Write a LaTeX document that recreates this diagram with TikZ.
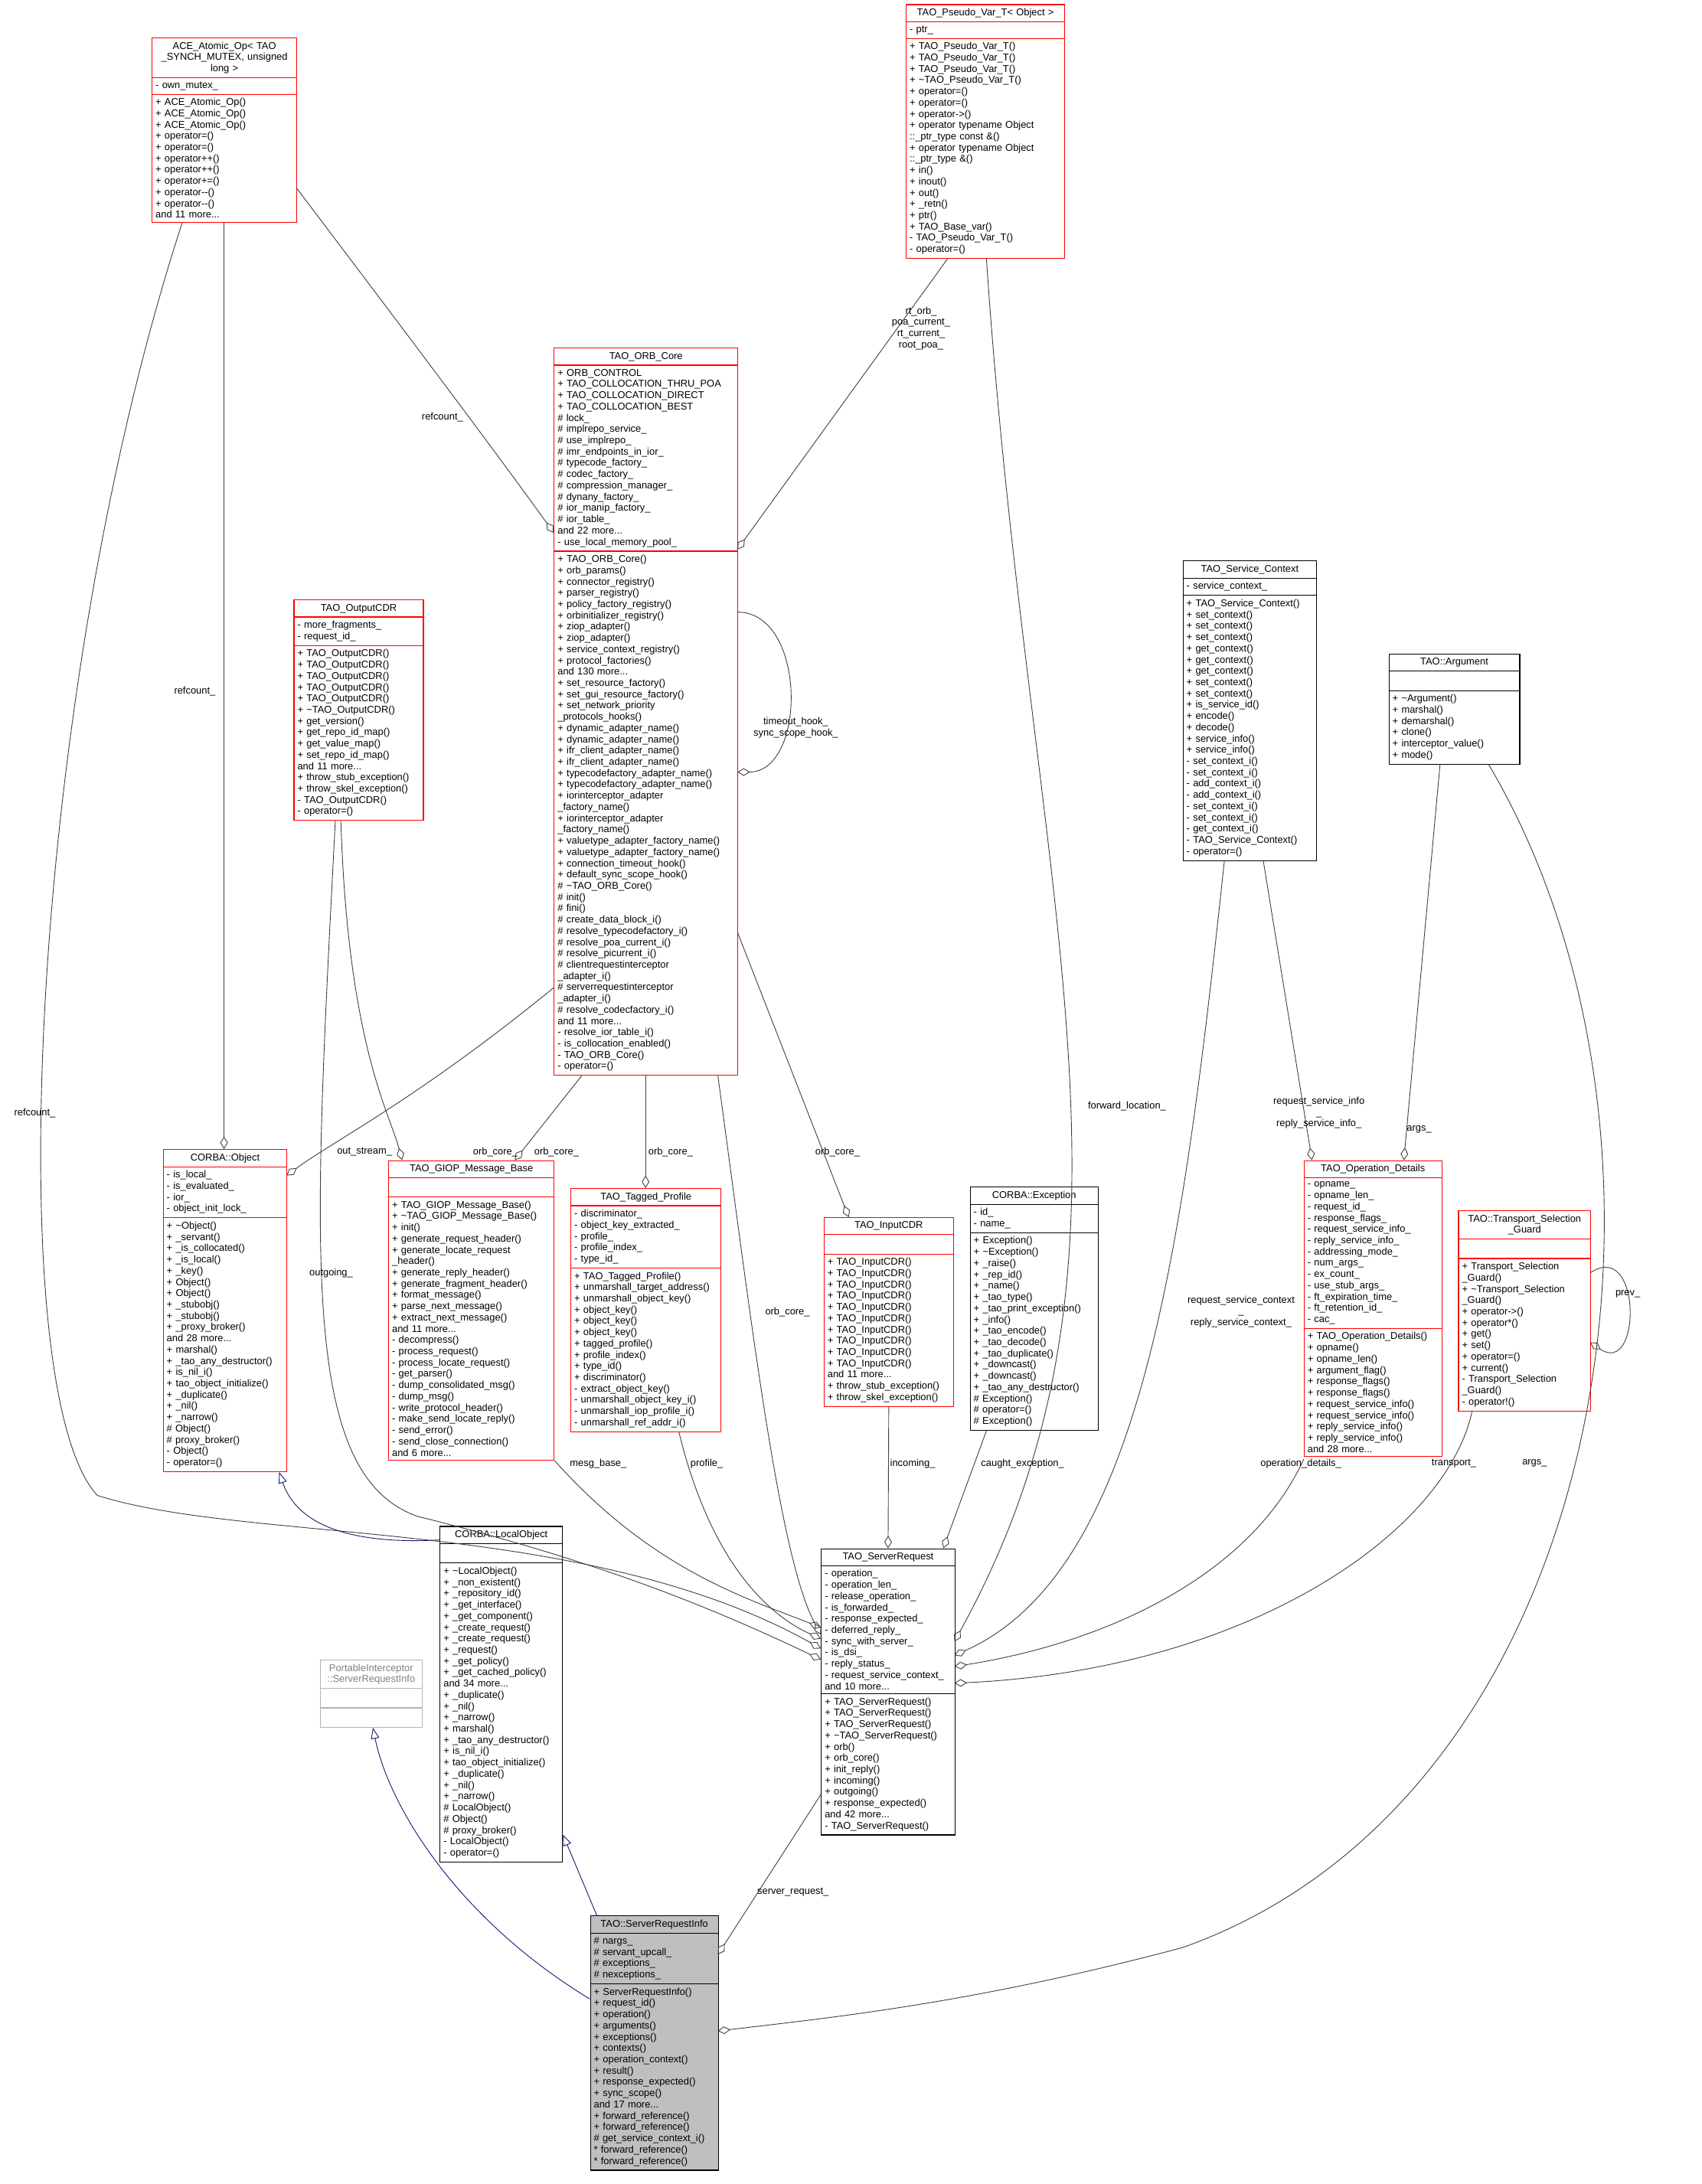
\documentclass[tikz,border=0pt]{standalone}
\usepackage{fontspec}
\setmainfont{Liberation Sans}
\usetikzlibrary{shapes.multipart,arrows.meta}

\definecolor{boxred}{RGB}{255,0,0}
\definecolor{edgegray}{RGB}{64,64,64}
\definecolor{inhblue}{RGB}{25,25,112}
\definecolor{titlegray}{RGB}{191,191,191}

\tikzset{
  classbox/.style={rectangle split, rectangle split parts=3, draw=#1, line width=0.6pt,
    anchor=north west, inner xsep=2.5pt, inner ysep=2.6pt, fill=white, align=left},
  redbox/.style={classbox=boxred},
  blackbox/.style={classbox=black},
  aggr/.style={draw=edgegray, line width=0.5pt, -{Diamond[open,length=9pt,width=5.5pt]}},
  inherit/.style={draw=inhblue, line width=0.5pt, -{Triangle[open,length=8pt,width=6pt]}},
  lbl/.style={align=center, inner sep=0.5pt}
}

\begin{document}
\catcode`\_=12
\begin{tikzpicture}[x=1pt,y=-1pt,font=\fontsize{7.1}{8.1}\selectfont]
\useasboundingbox (0,0) rectangle (1223,1570);

% classes
\node[redbox, text width=99pt] (ace) at (109,27)
  {\centering ACE_Atomic_Op< TAO\\_SYNCH_MUTEX, unsigned\\long >\par
   \nodepart{two} - own_mutex_
   \nodepart{three} + ACE_Atomic_Op()\\+ ACE_Atomic_Op()\\+ ACE_Atomic_Op()\\+ operator=()\\+ operator=()\\+ operator++()\\+ operator++()\\+ operator+=()\\+ operator-{}-()\\+ operator-{}-()\\and 11 more...};

\node[redbox, text width=109pt] (pseudo) at (651,3)
  {\centering TAO_Pseudo_Var_T< Object >\par
   \nodepart{two} - ptr_
   \nodepart{three} + TAO_Pseudo_Var_T()\\+ TAO_Pseudo_Var_T()\\+ TAO_Pseudo_Var_T()\\+ \textasciitilde TAO_Pseudo_Var_T()\\+ operator=()\\+ operator=()\\+ operator->()\\+ operator typename Object\\::_ptr_type const \&()\\+ operator typename Object\\::_ptr_type \&()\\+ in()\\+ inout()\\+ out()\\+ _retn()\\+ ptr()\\+ TAO_Base_var()\\- TAO_Pseudo_Var_T()\\- operator=()};

\node[redbox, text width=127pt] (orb) at (398,250)
  {\centering TAO_ORB_Core\par
   \nodepart{two} + ORB_CONTROL\\+ TAO_COLLOCATION_THRU_POA\\+ TAO_COLLOCATION_DIRECT\\+ TAO_COLLOCATION_BEST\\\# lock_\\\# implrepo_service_\\\# use_implrepo_\\\# imr_endpoints_in_ior_\\\# typecode_factory_\\\# codec_factory_\\\# compression_manager_\\\# dynany_factory_\\\# ior_manip_factory_\\\# ior_table_\\and 22 more...\\- use_local_memory_pool_
   \nodepart{three} + TAO_ORB_Core()\\+ orb_params()\\+ connector_registry()\\+ parser_registry()\\+ policy_factory_registry()\\+ orbinitializer_registry()\\+ ziop_adapter()\\+ ziop_adapter()\\+ service_context_registry()\\+ protocol_factories()\\and 130 more...\\+ set_resource_factory()\\+ set_gui_resource_factory()\\+ set_network_priority\\_protocols_hooks()\\+ dynamic_adapter_name()\\+ dynamic_adapter_name()\\+ ifr_client_adapter_name()\\+ ifr_client_adapter_name()\\+ typecodefactory_adapter_name()\\+ typecodefactory_adapter_name()\\+ iorinterceptor_adapter\\_factory_name()\\+ iorinterceptor_adapter\\_factory_name()\\+ valuetype_adapter_factory_name()\\+ valuetype_adapter_factory_name()\\+ connection_timeout_hook()\\+ default_sync_scope_hook()\\\# \textasciitilde TAO_ORB_Core()\\\# init()\\\# fini()\\\# create_data_block_i()\\\# resolve_typecodefactory_i()\\\# resolve_poa_current_i()\\\# resolve_picurrent_i()\\\# clientrequestinterceptor\\_adapter_i()\\\# serverrequestinterceptor\\_adapter_i()\\\# resolve_codecfactory_i()\\and 11 more...\\- resolve_ior_table_i()\\- is_collocation_enabled()\\- TAO_ORB_Core()\\- operator=()};

\node[redbox, text width=88pt] (out) at (211,431)
  {\centering TAO_OutputCDR\par
   \nodepart{two} - more_fragments_\\- request_id_
   \nodepart{three} + TAO_OutputCDR()\\+ TAO_OutputCDR()\\+ TAO_OutputCDR()\\+ TAO_OutputCDR()\\+ TAO_OutputCDR()\\+ \textasciitilde TAO_OutputCDR()\\+ get_version()\\+ get_repo_id_map()\\+ get_value_map()\\+ set_repo_id_map()\\and 11 more...\\+ throw_stub_exception()\\+ throw_skel_exception()\\- TAO_OutputCDR()\\- operator=()};

\node[blackbox, text width=91pt] (svc) at (850,403)
  {\centering TAO_Service_Context\par
   \nodepart{two} - service_context_
   \nodepart{three} + TAO_Service_Context()\\+ set_context()\\+ set_context()\\+ set_context()\\+ get_context()\\+ get_context()\\+ get_context()\\+ set_context()\\+ set_context()\\+ is_service_id()\\+ encode()\\+ decode()\\+ service_info()\\+ service_info()\\- set_context_i()\\- set_context_i()\\- add_context_i()\\- add_context_i()\\- set_context_i()\\- set_context_i()\\- get_context_i()\\- TAO_Service_Context()\\- operator=()};

\node[blackbox, text width=89pt] (arg) at (998,470)
  {\centering TAO::Argument\par
   \nodepart{two} \strut
   \nodepart{three} + \textasciitilde Argument()\\+ marshal()\\+ demarshal()\\+ clone()\\+ interceptor_value()\\+ mode()};

\node[redbox, text width=84pt] (obj) at (117,826)
  {\centering CORBA::Object\par
   \nodepart{two} - is_local_\\- is_evaluated_\\- ior_\\- object_init_lock_
   \nodepart{three} + \textasciitilde Object()\\+ _servant()\\+ _is_collocated()\\+ _is_local()\\+ _key()\\+ Object()\\+ Object()\\+ _stubobj()\\+ _stubobj()\\+ _proxy_broker()\\and 28 more...\\+ marshal()\\+ _tao_any_destructor()\\+ is_nil_i()\\+ tao_object_initialize()\\+ _duplicate()\\+ _nil()\\+ _narrow()\\\# Object()\\\# proxy_broker()\\- Object()\\- operator=()};

\node[redbox, text width=114pt] (giop) at (279,834)
  {\centering TAO_GIOP_Message_Base\par
   \nodepart{two} \strut
   \nodepart{three} + TAO_GIOP_Message_Base()\\+ \textasciitilde TAO_GIOP_Message_Base()\\+ init()\\+ generate_request_header()\\+ generate_locate_request\\_header()\\+ generate_reply_header()\\+ generate_fragment_header()\\+ format_message()\\+ parse_next_message()\\+ extract_next_message()\\and 11 more...\\- decompress()\\- process_request()\\- process_locate_request()\\- get_parser()\\- dump_consolidated_msg()\\- dump_msg()\\- write_protocol_header()\\- make_send_locate_reply()\\- send_error()\\- send_close_connection()\\and 6 more...};

\node[redbox, text width=103pt] (tag) at (410,854)
  {\centering TAO_Tagged_Profile\par
   \nodepart{two} - discriminator_\\- object_key_extracted_\\- profile_\\- profile_index_\\- type_id_
   \nodepart{three} + TAO_Tagged_Profile()\\+ unmarshall_target_address()\\+ unmarshall_object_key()\\+ object_key()\\+ object_key()\\+ object_key()\\+ tagged_profile()\\+ profile_index()\\+ type_id()\\+ discriminator()\\- extract_object_key()\\- unmarshall_object_key_i()\\- unmarshall_iop_profile_i()\\- unmarshall_ref_addr_i()};

\node[redbox, text width=88pt] (inp) at (592,875)
  {\centering TAO_InputCDR\par
   \nodepart{two} \strut
   \nodepart{three} + TAO_InputCDR()\\+ TAO_InputCDR()\\+ TAO_InputCDR()\\+ TAO_InputCDR()\\+ TAO_InputCDR()\\+ TAO_InputCDR()\\+ TAO_InputCDR()\\+ TAO_InputCDR()\\+ TAO_InputCDR()\\+ TAO_InputCDR()\\and 11 more...\\+ throw_stub_exception()\\+ throw_skel_exception()};

\node[blackbox, text width=87pt] (exc) at (697,853)
  {\centering CORBA::Exception\par
   \nodepart{two} - id_\\- name_
   \nodepart{three} + Exception()\\+ \textasciitilde Exception()\\+ _raise()\\+ _rep_id()\\+ _name()\\+ _tao_type()\\+ _tao_print_exception()\\+ _info()\\+ _tao_encode()\\+ _tao_decode()\\+ _tao_duplicate()\\+ _downcast()\\+ _downcast()\\+ _tao_any_destructor()\\\# Exception()\\\# operator=()\\\# Exception()};

\node[redbox, text width=94pt] (opd) at (937,834)
  {\centering TAO_Operation_Details\par
   \nodepart{two} - opname_\\- opname_len_\\- request_id_\\- response_flags_\\- request_service_info_\\- reply_service_info_\\- addressing_mode_\\- num_args_\\- ex_count_\\- use_stub_args_\\- ft_expiration_time_\\- ft_retention_id_\\- cac_
   \nodepart{three} + TAO_Operation_Details()\\+ opname()\\+ opname_len()\\+ argument_flag()\\+ response_flags()\\+ response_flags()\\+ request_service_info()\\+ request_service_info()\\+ reply_service_info()\\+ reply_service_info()\\and 28 more...};

\node[redbox, text width=90pt] (guard) at (1048,870)
  {\centering TAO::Transport_Selection\\_Guard\par
   \nodepart{two} \strut
   \nodepart{three} + Transport_Selection\\_Guard()\\+ \textasciitilde Transport_Selection\\_Guard()\\+ operator->()\\+ operator*()\\+ get()\\+ set()\\+ operator=()\\+ current()\\- Transport_Selection\\_Guard()\\- operator!()};

\node[blackbox, text width=83pt] (lobj) at (316,1097)
  {\centering CORBA::LocalObject\par
   \nodepart{two} \strut
   \nodepart{three} + \textasciitilde LocalObject()\\+ _non_existent()\\+ _repository_id()\\+ _get_interface()\\+ _get_component()\\+ _create_request()\\+ _create_request()\\+ _request()\\+ _get_policy()\\+ _get_cached_policy()\\and 34 more...\\+ _duplicate()\\+ _nil()\\+ _narrow()\\+ marshal()\\+ _tao_any_destructor()\\+ is_nil_i()\\+ tao_object_initialize()\\+ _duplicate()\\+ _nil()\\+ _narrow()\\\# LocalObject()\\\# Object()\\\# proxy_broker()\\- LocalObject()\\- operator=()};

\node[classbox=gray!60, text width=68pt, text=gray] (pisri) at (230,1193)
  {\centering PortableInterceptor\\::ServerRequestInfo\par
   \nodepart{two} \strut
   \nodepart{three} \strut};

\node[blackbox, text width=91pt] (sreq) at (590,1113)
  {\centering TAO_ServerRequest\par
   \nodepart{two} - operation_\\- operation_len_\\- release_operation_\\- is_forwarded_\\- response_expected_\\- deferred_reply_\\- sync_with_server_\\- is_dsi_\\- reply_status_\\- request_service_context_\\and 10 more...
   \nodepart{three} + TAO_ServerRequest()\\+ TAO_ServerRequest()\\+ TAO_ServerRequest()\\+ \textasciitilde TAO_ServerRequest()\\+ orb()\\+ orb_core()\\+ init_reply()\\+ incoming()\\+ outgoing()\\+ response_expected()\\and 42 more...\\- TAO_ServerRequest()};

\node[blackbox, fill=titlegray, text width=87pt] (sri) at (424,1377)
  {\centering TAO::ServerRequestInfo\par
   \nodepart{two} \# nargs_\\\# servant_upcall_\\\# exceptions_\\\# nexceptions_
   \nodepart{three} + ServerRequestInfo()\\+ request_id()\\+ operation()\\+ arguments()\\+ exceptions()\\+ contexts()\\+ operation_context()\\+ result()\\+ response_expected()\\+ sync_scope()\\and 17 more...\\+ forward_reference()\\+ forward_reference()\\\# get_service_context_i()\\{}* forward_reference()\\{}* forward_reference()};

% connectors
\draw[aggr] ([shift={(104,108)}]ace.north west) .. controls (300,250) and (360,330) .. ([shift={(0,133)}]orb.north west);
\draw[aggr] ([shift={(52,0)}]ace.south west) -- ([shift={(44,0)}]obj.north west);
\draw[aggr] ([shift={(22,0)}]ace.south west) .. controls (20,500) and (0,1000) .. (70,1075) .. controls (180,1110) and (420,1090) .. ([shift={(0,72)}]sreq.north west);
\draw[aggr] ([shift={(30,0)}]pseudo.south west) -- ([shift={(132,145)}]orb.north west);
\draw[aggr] ([shift={(58,0)}]pseudo.south west) .. controls (740,650) and (840,900) .. ([shift={(96,67)}]sreq.north west);
\draw[aggr] ([shift={(132,190)}]orb.north west) .. controls (580,440) and (580,555) .. ([shift={(132,305)}]orb.north west);
\draw[aggr] ([shift={(0,460)}]orb.north west) .. controls (300,790) and (240,820) .. ([shift={(89,19)}]obj.north west);
\draw[aggr] ([shift={(20,0)}]orb.south west) -- ([shift={(91,0)}]giop.north west);
\draw[aggr] ([shift={(66,0)}]orb.south west) -- ([shift={(54,0)}]tag.north west);
\draw[aggr] ([shift={(132,420)}]orb.north west) -- ([shift={(18,0)}]inp.north west);
\draw[aggr] ([shift={(118,0)}]orb.south west) .. controls (540,950) and (560,1120) .. ([shift={(0,62)}]sreq.north west);
\draw[aggr] ([shift={(34,0)}]out.south west) .. controls (250,750) and (280,800) .. ([shift={(10,0)}]giop.north west);
\draw[aggr] ([shift={(30,0)}]out.south west) .. controls (225,900) and (215,1060) .. (300,1090) .. controls (420,1120) and (500,1150) .. ([shift={(0,80)}]sreq.north west);
\draw[inherit] ([shift={(0,10)}]lobj.north west) .. controls (260,1110) and (215,1100) .. ([shift={(-6,0)}]obj.south east);
\draw[inherit] ([shift={(0,60)}]sri.north west) .. controls (330,1380) and (280,1300) .. ([shift={(38,0)}]pisri.south west);
\draw[inherit] ([shift={(5,0)}]sri.north west) -- ([shift={(0,-20)}]lobj.south east);
\draw[aggr] (giop.south east) .. controls (470,1130) and (540,1150) .. ([shift={(0,57)}]sreq.north west);
\draw[aggr] ([shift={(78,0)}]tag.south west) .. controls (510,1120) and (550,1160) .. ([shift={(0,65)}]sreq.north west);
\draw[aggr] (inp.south) -- (sreq.north);
\draw[aggr] ([shift={(12,0)}]exc.south west) -- ([shift={(88,0)}]sreq.north west);
\draw[aggr] ([shift={(30,0)}]svc.south west) .. controls (850,900) and (820,1130) .. ([shift={(96,77)}]sreq.north west);
\draw[aggr] ([shift={(58,0)}]svc.south west) -- ([shift={(6,0)}]opd.north west);
\draw[aggr] ([shift={(37,0)}]arg.south west) -- ([shift={(72,0)}]opd.north west);
\draw[aggr] ([shift={(72,0)}]arg.south west) .. controls (1230,820) and (1160,1290) .. (850,1400) .. controls (700,1440) and (600,1450) .. ([shift={(92,83)}]sri.north west);
\draw[aggr] ([shift={(0,215)}]opd.north west) .. controls (900,1130) and (800,1180) .. ([shift={(96,85)}]sreq.north west);
\draw[aggr] ([shift={(10,0)}]guard.south west) .. controls (1040,1100) and (900,1200) .. ([shift={(96,97)}]sreq.north west);
\draw[aggr] ([shift={(95,45)}]guard.north west) .. controls (1180,890) and (1180,990) .. ([shift={(95,95)}]guard.north west);
\draw[aggr] ([shift={(0,177)}]sreq.north west) -- ([shift={(92,28)}]sri.north west);

% labels
\node[lbl] (l1) at (318,300) {refcount_};
\node[lbl] (l2) at (140,497) {refcount_};
\node[lbl] (l3) at (25,800) {refcount_};
\node[lbl] (l4) at (662,236) {rt_orb_\\poa_current_\\rt_current_\\root_poa_};
\node[lbl] (l5) at (810,795) {forward_location_};
\node[lbl] (l6) at (572,523) {timeout_hook_\\sync_scope_hook_};
\node[lbl] (l7) at (356,828) {orb_core_};
\node[lbl] (l8) at (400,828) {orb_core_};
\node[lbl] (l9) at (482,828) {orb_core_};
\node[lbl] (l10) at (602,828) {orb_core_};
\node[lbl] (l11) at (566,943) {orb_core_};
\node[lbl] (l12) at (262,828) {out_stream_};
\node[lbl] (l13) at (238,915) {outgoing_};
\node[lbl] (l14) at (430,1052) {mesg_base_};
\node[lbl] (l15) at (508,1052) {profile_};
\node[lbl] (l16) at (656,1052) {incoming_};
\node[lbl] (l17) at (735,1052) {caught_exception_};
\node[lbl] (l18) at (892,943) {request_service_context\\_\\reply_service_context_};
\node[lbl] (l19) at (948,800) {request_service_info\\_\\reply_service_info_};
\node[lbl] (l20) at (1020,812) {args_};
\node[lbl] (l21) at (1103,1052) {args_};
\node[lbl] (l22) at (935,1052) {operation_details_};
\node[lbl] (l23) at (1045,1052) {transport_};
\node[lbl] (l24) at (1170,930) {prev_};
\node[lbl] (l25) at (570,1360) {server_request_};
\end{tikzpicture}
\end{document}
